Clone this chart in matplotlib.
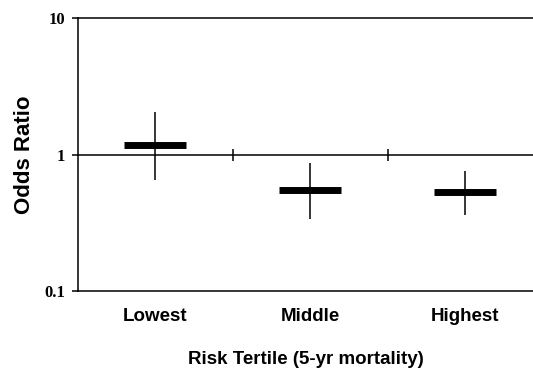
import matplotlib
matplotlib.use("Agg")
import matplotlib.pyplot as plt
from matplotlib.ticker import FixedLocator, NullLocator

# Odds ratios with 95% CI by risk tertile
categories = ["Lowest", "Middle", "Highest"]
odds = [1.17, 0.547, 0.529]
ci_low = [0.65, 0.336, 0.363]
ci_high = [2.04, 0.868, 0.755]

sans = ["Liberation Sans", "DejaVu Sans"]
serif = ["Liberation Serif", "DejaVu Serif"]

fig = plt.figure(figsize=(5.33, 3.74), dpi=100)
ax = fig.add_axes([0.1463, 0.222, 0.8537, 0.729])

xs = [i + 0.5 for i in range(len(categories))]

ax.set_yscale("log")
ax.set_ylim(0.1, 10)
ax.set_xlim(0, 2.94)

# gridlines at each decade, the category axis crosses at 1
for y in (0.1, 1, 10):
    ax.axhline(y, color="black", lw=1.1, clip_on=False, zorder=1)

# category boundary tick marks on the line at 1
ax.plot([1, 2], [1, 1], ls="none", marker="|", ms=9, mew=1.1, color="black", zorder=2)

ax.vlines(xs, ci_low, ci_high, color="black", lw=1.1, zorder=3)
ax.hlines(odds, [x - 0.2 for x in xs], [x + 0.2 for x in xs], color="black", lw=5, zorder=4)

for s in ("top", "right", "bottom"):
    ax.spines[s].set_visible(False)
ax.spines["left"].set_linewidth(1.1)

ax.yaxis.set_major_locator(FixedLocator([0.1, 1, 10]))
ax.yaxis.set_minor_locator(NullLocator())
ax.set_yticklabels(["0.1", "1", "10"], family=serif, fontweight="bold", fontsize=12)
ax.tick_params(axis="y", length=4, width=1.1, pad=5)

ax.set_xticks(xs)
ax.set_xticklabels(categories, family=sans, fontweight="bold", fontsize=13.5)
ax.tick_params(axis="x", length=0, pad=12)

ax.set_ylabel("Odds Ratio", family=sans, fontweight="bold", fontsize=16, labelpad=7)
ax.set_xlabel("Risk Tertile (5-yr mortality)", family=sans, fontweight="bold",
              fontsize=13.5, labelpad=19)

fig.savefig("out.png", dpi=100)
